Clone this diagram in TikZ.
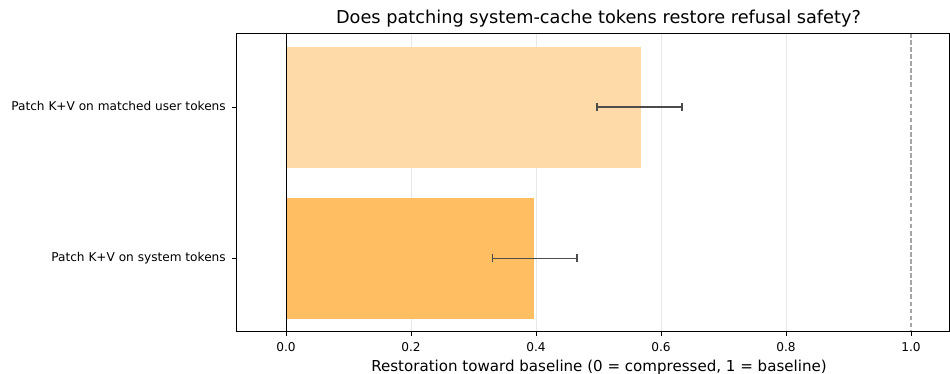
\documentclass[tikz,border=0pt]{standalone}
\usepackage{fontspec}
\setmainfont{DejaVu Sans}
\begin{document}
\begin{tikzpicture}[x=0.75pt,y=-0.75pt,
  ticklab/.style={font=\fontsize{9.1pt}{10pt}\selectfont, inner sep=0pt},
  axlab/.style={font=\fontsize{11.3pt}{13pt}\selectfont, inner sep=0pt},
  titlelab/.style={font=\fontsize{13.3pt}{15pt}\selectfont, inner sep=0pt},
  spine/.style={draw=black, line width=0.7pt},
  gridln/.style={draw=black!9, line width=0.6pt},
  errbar/.style={draw=black!70, line width=0.85pt},
  tickmk/.style={draw=black, line width=0.6pt}]
\useasboundingbox (0,0) rectangle (950,374);
\fill[white] (0,0) rectangle (950,374);
% grid
\foreach \v in {0.2,0.4,0.6,0.8}{
  \draw[gridln] ({286+625*\v},33) -- ({286+625*\v},331.5);
}
% bars
\fill[fill={rgb,255:red,254;green,218;blue,168}] (286,47) rectangle (641,168);
\fill[fill={rgb,255:red,255;green,190;blue,98}] (286,198) rectangle (533.5,319);
% zero line and baseline
\draw[black, line width=0.6pt] (286,33) -- (286,331.5);
\draw[black!35, line width=0.8pt, dash pattern=on 3.5pt off 1.8pt] (911,33) -- (911,331.5);
% error bars
\coordinate (e1l) at (597,107); \coordinate (e1r) at (682,107);
\coordinate (e2l) at (492.5,258.5); \coordinate (e2r) at (577,258.5);
\draw[errbar] (e1l) -- (e1r);
\draw[errbar] ([yshift=4*0.75pt]e1l) -- ([yshift=-4*0.75pt]e1l);
\draw[errbar] ([yshift=4*0.75pt]e1r) -- ([yshift=-4*0.75pt]e1r);
\draw[errbar] (e2l) -- (e2r);
\draw[errbar] ([yshift=4*0.75pt]e2l) -- ([yshift=-4*0.75pt]e2l);
\draw[errbar] ([yshift=4*0.75pt]e2r) -- ([yshift=-4*0.75pt]e2r);
% frame
\draw[spine] (236,33) rectangle (949.4,331.5);
% x ticks
\foreach \v/\t in {0/0.0,0.2/0.2,0.4/0.4,0.6/0.6,0.8/0.8,1/1.0}{
  \draw[tickmk] ({286+625*\v},331.5) -- ({286+625*\v},336);
  \node[ticklab, anchor=base] (xt\t) at ({286+625*\v},351.5) {\t};
}
% y ticks
\draw[tickmk] (236,107.5) -- (231.5,107.5);
\draw[tickmk] (236,258.5) -- (231.5,258.5);
\node[ticklab, anchor=base east] (y1) at (226,111) {Patch K+V on matched user tokens};
\node[ticklab, anchor=base east] (y2) at (226,262) {Patch K+V on system tokens};
% labels
\node[axlab, anchor=base] (xl) at (599,371) {Restoration toward baseline (0 = compressed, 1 = baseline)};
\node[titlelab, anchor=base] (ttl) at (598.5,24) {Does patching system-cache tokens restore refusal safety?};
\end{tikzpicture}
\end{document}
